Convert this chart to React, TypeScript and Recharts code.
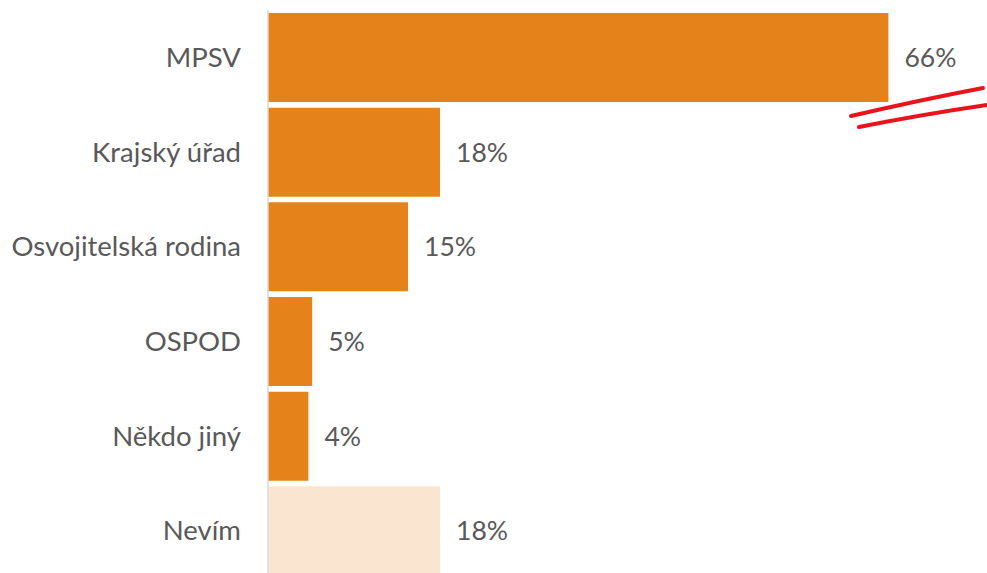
import React from "react";
import { BarChart, Bar, XAxis, YAxis, Cell, LabelList } from "recharts";

const categories = ["MPSV", "Krajský úřad", "Osvojitelská rodina", "OSPOD", "Někdo jiný", "Nevím"];
const values = [66, 18.3, 14.9, 4.7, 4.3, 18.3];
const valueLabels = ["66%", "18%", "15%", "5%", "4%", "18%"];

const MAIN = "#E5831A";
const LIGHT = "#FAE6D0";
const barColors = [MAIN, MAIN, MAIN, MAIN, MAIN, LIGHT];

const data = categories.map((name, i) => ({ name, value: values[i], label: valueLabels[i] }));

const FONT = "Lato, 'Open Sans', sans-serif";
const TEXT = "#595959";

export default function App() {
  return (
    <div style={{ position: "relative", width: 987, height: 573, overflow: "hidden", background: "#fff" }}>
      <style>{`body{margin:0}`}</style>
      <BarChart
        width={987}
        height={578}
        data={data}
        layout="vertical"
        margin={{ top: 10, right: 61, bottom: 0, left: 0 }}
        barCategoryGap={0}
      >
        <XAxis type="number" domain={[0, 70]} hide />
        <YAxis
          type="category"
          dataKey="name"
          width={268}
          tickSize={0}
          tickMargin={27}
          tickLine={false}
          axisLine={{ stroke: "#d9d9d9", strokeWidth: 1.5 }}
          tick={{ fill: TEXT, fontSize: 27.5, fontFamily: FONT }}
          interval={0}
        />
        <Bar dataKey="value" barSize={89} isAnimationActive={false}>
          {data.map((d, i) => (
            <Cell key={d.name} fill={barColors[i]} />
          ))}
          <LabelList
            dataKey="label"
            position="right"
            offset={16}
            style={{ fill: TEXT, fontSize: 26.5, fontFamily: FONT }}
          />
        </Bar>
      </BarChart>
      <svg
        width={987}
        height={573}
        style={{ position: "absolute", left: 0, top: 0, pointerEvents: "none" }}
      >
        <path d="M851 116 Q 920 100 983 88" stroke="#E8141C" strokeWidth={4} fill="none" strokeLinecap="round" />
        <path d="M859 127 Q 925 114 987 105" stroke="#E8141C" strokeWidth={4} fill="none" strokeLinecap="round" />
      </svg>
    </div>
  );
}
